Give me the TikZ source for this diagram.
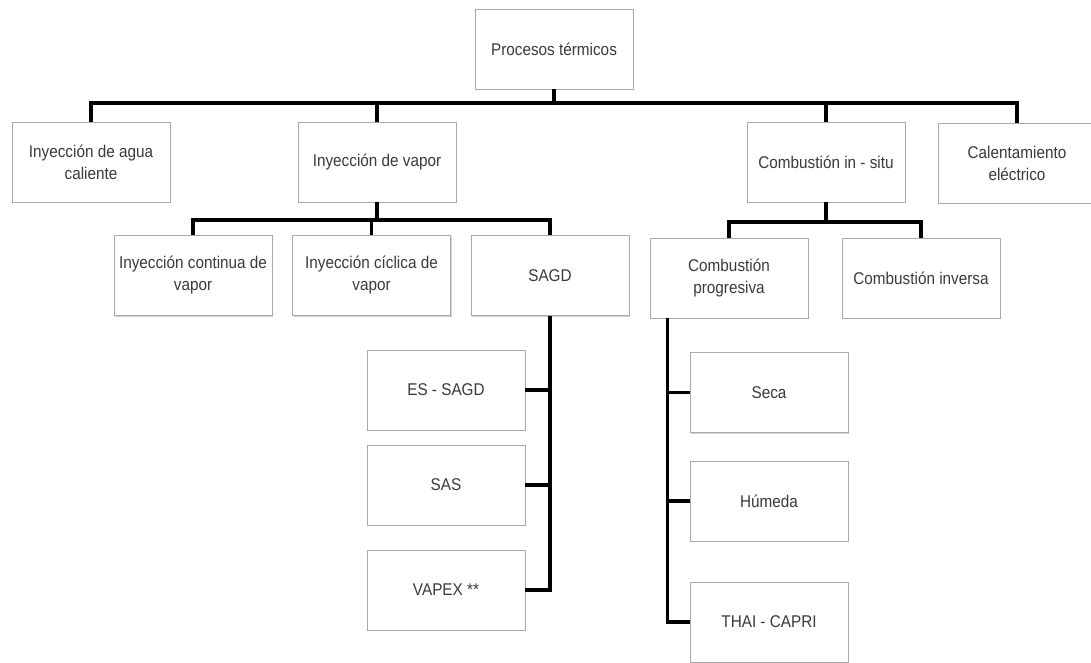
\documentclass[tikz,border=0pt]{standalone}
\usepackage{fontspec}
\setmainfont[FakeStretch=0.9]{Liberation Sans}
\usetikzlibrary{shadows}
\definecolor{txt}{HTML}{3A3A3A}
\definecolor{bord}{HTML}{A8A8A8}
\tikzset{
  box/.style={draw=bord, line width=0.6pt, fill=white, minimum width=118.5pt, minimum height=60pt,
    align=center, text=txt, font=\fontsize{12.75}{16.5}\selectfont, inner sep=2pt,
    drop shadow={shadow xshift=0.9pt, shadow yshift=-0.9pt, opacity=0.35, fill=gray}},
  conn/.style={line width=2.3pt, black}
}
\begin{document}
\begin{tikzpicture}[x=0.75pt, y=-0.75pt]
\useasboundingbox (0,0) rectangle (1091,663);
% level 0
\node[box] (proc) at (554,49) {Procesos térmicos};
% level 1
\node[box] (agua) at (91,162) {Inyección de agua\\caliente};
\node[box] (vapor) at (377,162) {Inyección de vapor};
\node[box] (insitu) at (826,162) {Combustión in - situ};
\node[box] (calent) at (1017,163) {Calentamiento\\eléctrico};
% level 2
\node[box] (continua) at (193,275.5) {Inyección continua de\\vapor};
\node[box] (ciclica) at (371.5,275.5) {Inyección cíclica de\\vapor};
\node[box] (sagd) at (550,275.5) {SAGD};
\node[box] (prog) at (729,278) {Combustión\\progresiva};
\node[box] (inversa) at (921,278) {Combustión inversa};
% level 3
\node[box] (essagd) at (446,390) {ES - SAGD};
\node[box] (sas) at (446,485) {SAS};
\node[box] (vapex) at (446,590) {VAPEX **};
\node[box] (seca) at (769,392.5) {Seca};
\node[box] (humeda) at (769,501) {Húmeda};
\node[box] (thai) at (769,622) {THAI - CAPRI};
% buses
\coordinate (bus1) at (0,103);
\coordinate (bus2) at (0,220);
\coordinate (bus3) at (0,222);
\coordinate (pv) at ([xshift=13.5pt]prog.south west);
% connectors level 0 -> 1
\draw[conn] (proc.south) -- (proc.south |- bus1);
\draw[conn] (agua.north) -- (agua.north |- bus1) -- (calent.north |- bus1) -- (calent.north);
\draw[conn] (vapor.north) -- (vapor.north |- bus1);
\draw[conn] (insitu.north) -- (insitu.north |- bus1);
% vapor -> children
\draw[conn] (vapor.south) -- (vapor.south |- bus2);
\draw[conn] (continua.north) -- (continua.north |- bus2) -- (sagd.north |- bus2) -- (sagd.north);
\draw[conn] (ciclica.north) -- (ciclica.north |- bus2);
% insitu -> children
\draw[conn] (insitu.south) -- (insitu.south |- bus3);
\draw[conn] (prog.north) -- (prog.north |- bus3) -- (inversa.north |- bus3) -- (inversa.north);
% sagd -> children
\draw[conn] (sagd.south) -- (sagd.south |- vapex.east) -- (vapex.east);
\draw[conn] (essagd.east) -- (essagd.east -| sagd.south);
\draw[conn] (sas.east) -- (sas.east -| sagd.south);
% prog -> children
\draw[conn] (pv) -- (pv |- thai.west) -- (thai.west);
\draw[conn] (seca.west) -- (seca.west -| pv);
\draw[conn] (humeda.west) -- (humeda.west -| pv);
\end{tikzpicture}
\end{document}
